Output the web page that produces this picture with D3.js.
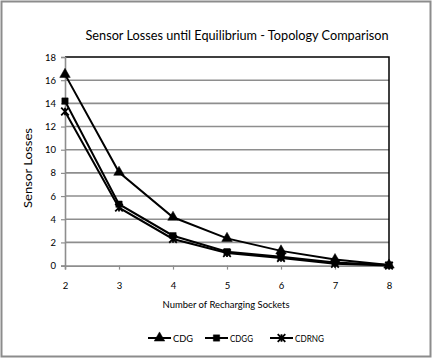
<!DOCTYPE html>
<html>
<head>
<meta charset="utf-8">
<script src="https://cdn.jsdelivr.net/npm/d3@7"></script>
<style>
  body { margin: 0; background: #fff; }
  text { font-family: Lato, "Open Sans", sans-serif; fill: #000; }
</style>
</head>
<body>
<div class="chart"></div>
<script>
const svgWidth = 432;
const svgHeight = 358;

const margin = { top: 57, right: 43, bottom: 92, left: 65 };
const width = 389 - margin.left;
const height = 265.6 - margin.top;

// data
const sockets = [2, 3, 4, 5, 6, 7, 8];
const cdg = [16.5, 8.05, 4.17, 2.35, 1.27, 0.52, 0.05];
const cdgg = [14.2, 5.3, 2.58, 1.2, 0.77, 0.26, 0.05];
const cdrng = [13.3, 5.0, 2.3, 1.08, 0.66, 0.15, 0.0];
const yTicks = [0, 2, 4, 6, 8, 10, 12, 14, 16, 18];
const seriesNames = ["CDG", "CDGG", "CDRNG"];
const seriesValues = [cdg, cdgg, cdrng];
const markerTypes = [d3.symbolTriangle, d3.symbolSquare, "star"];

const svg = d3.select(".chart")
  .append("svg")
  .attr("height", svgHeight)
  .attr("width", svgWidth);

// outer frame
svg.append("rect")
  .attr("x", 1.5).attr("y", 1.5)
  .attr("width", svgWidth - 3).attr("height", svgHeight - 3)
  .attr("fill", "none")
  .attr("stroke", "#8c8c8c")
  .attr("stroke-width", 2);

const chartGroup = svg.append("g")
  .attr("transform", `translate(${margin.left}, ${margin.top})`);

// scales
const xScale = d3.scaleLinear().domain([2, 8]).range([0, width]);
const yScale = d3.scaleLinear().domain([0, 18]).range([height, 0]);

// gridlines
chartGroup.selectAll(".grid")
  .data(yTicks.filter(d => d > 0 && d < 18))
  .enter()
  .append("line")
  .attr("x1", 0).attr("x2", width)
  .attr("y1", d => yScale(d)).attr("y2", d => yScale(d))
  .attr("stroke", "#8e8e8e")
  .attr("stroke-width", 1.6);

// plot border top/right
chartGroup.append("path")
  .attr("d", `M0,${yScale(18)}H${width}V${height}`)
  .attr("fill", "none")
  .attr("stroke", "#000")
  .attr("stroke-width", 1.5);

// axes
const yAxis = d3.axisLeft(yScale).tickValues(yTicks).tickSize(4).tickPadding(5);
const xAxis = d3.axisBottom(xScale).tickValues(sockets).tickFormat(d3.format("d")).tickSize(4).tickPadding(13);

const yG = chartGroup.append("g").call(yAxis);
const xG = chartGroup.append("g").attr("transform", `translate(0, ${height})`).call(xAxis);
[yG, xG].forEach(g => {
  g.select(".domain").attr("stroke", "#8e8e8e").attr("stroke-width", 1.6);
  g.selectAll(".tick line").attr("stroke", "#8e8e8e").attr("stroke-width", 1.2);
  g.selectAll(".tick text").attr("font-size", 9.5).style("font-family", "Lato, sans-serif");
});

// marker paths
function markerPath(type) {
  if (type === "star") {
    const s = 3.8;
    return `M${-s},${-s}L${s},${s}M${s},${-s}L${-s},${s}M0,${-s}V${s}`;
  }
  return d3.symbol().type(type).size(type === d3.symbolTriangle ? 48 : 40)();
}

// line generator
const line = d3.line()
  .x((d, i) => xScale(sockets[i]))
  .y(d => yScale(d));

seriesValues.forEach((vals, si) => {
  chartGroup.append("path")
    .attr("d", line(vals))
    .attr("fill", "none")
    .attr("stroke", "#000")
    .attr("stroke-width", 2);

  chartGroup.selectAll(".m" + si)
    .data(vals)
    .enter()
    .append("path")
    .attr("transform", (d, i) => `translate(${xScale(sockets[i])}, ${yScale(d)})`)
    .attr("d", markerPath(markerTypes[si]))
    .attr("fill", "#000")
    .attr("stroke", "#000")
    .attr("stroke-width", markerTypes[si] === "star" ? 1.8 : 0.5);
});

// title
svg.append("text")
  .attr("x", 237).attr("y", 40)
  .attr("text-anchor", "middle")
  .attr("font-size", 13)
  .attr("textLength", 303)
  .attr("lengthAdjust", "spacingAndGlyphs")
  .text("Sensor Losses until Equilibrium - Topology Comparison");

// axis titles
svg.append("text")
  .attr("transform", "translate(32, 168) rotate(-90)")
  .attr("text-anchor", "middle")
  .attr("font-size", 11.5)
  .attr("textLength", 80)
  .attr("lengthAdjust", "spacingAndGlyphs")
  .text("Sensor Losses");

svg.append("text")
  .attr("x", 226).attr("y", 308)
  .attr("text-anchor", "middle")
  .attr("font-size", 10)
  .attr("textLength", 127)
  .attr("lengthAdjust", "spacingAndGlyphs")
  .text("Number of Recharging Sockets");

// legend
const legendX = [148, 205, 270];
const legendW = [20, 23, 29];
const legend = svg.selectAll(".legend")
  .data(seriesNames)
  .enter()
  .append("g")
  .attr("transform", (d, i) => `translate(${legendX[i]}, 338)`);

legend.append("line")
  .attr("x1", 0).attr("x2", 23)
  .attr("stroke", "#000").attr("stroke-width", 2);
legend.append("path")
  .attr("transform", "translate(11.5, 0)")
  .attr("d", (d, i) => markerPath(markerTypes[i]))
  .attr("fill", "#000")
  .attr("stroke", "#000")
  .attr("stroke-width", (d, i) => markerTypes[i] === "star" ? 1.8 : 0.5);
legend.append("text")
  .attr("x", 25).attr("y", 3.5)
  .attr("font-size", 10)
  .attr("textLength", (d, i) => legendW[i])
  .attr("lengthAdjust", "spacingAndGlyphs")
  .text(d => d);
</script>
</body>
</html>
